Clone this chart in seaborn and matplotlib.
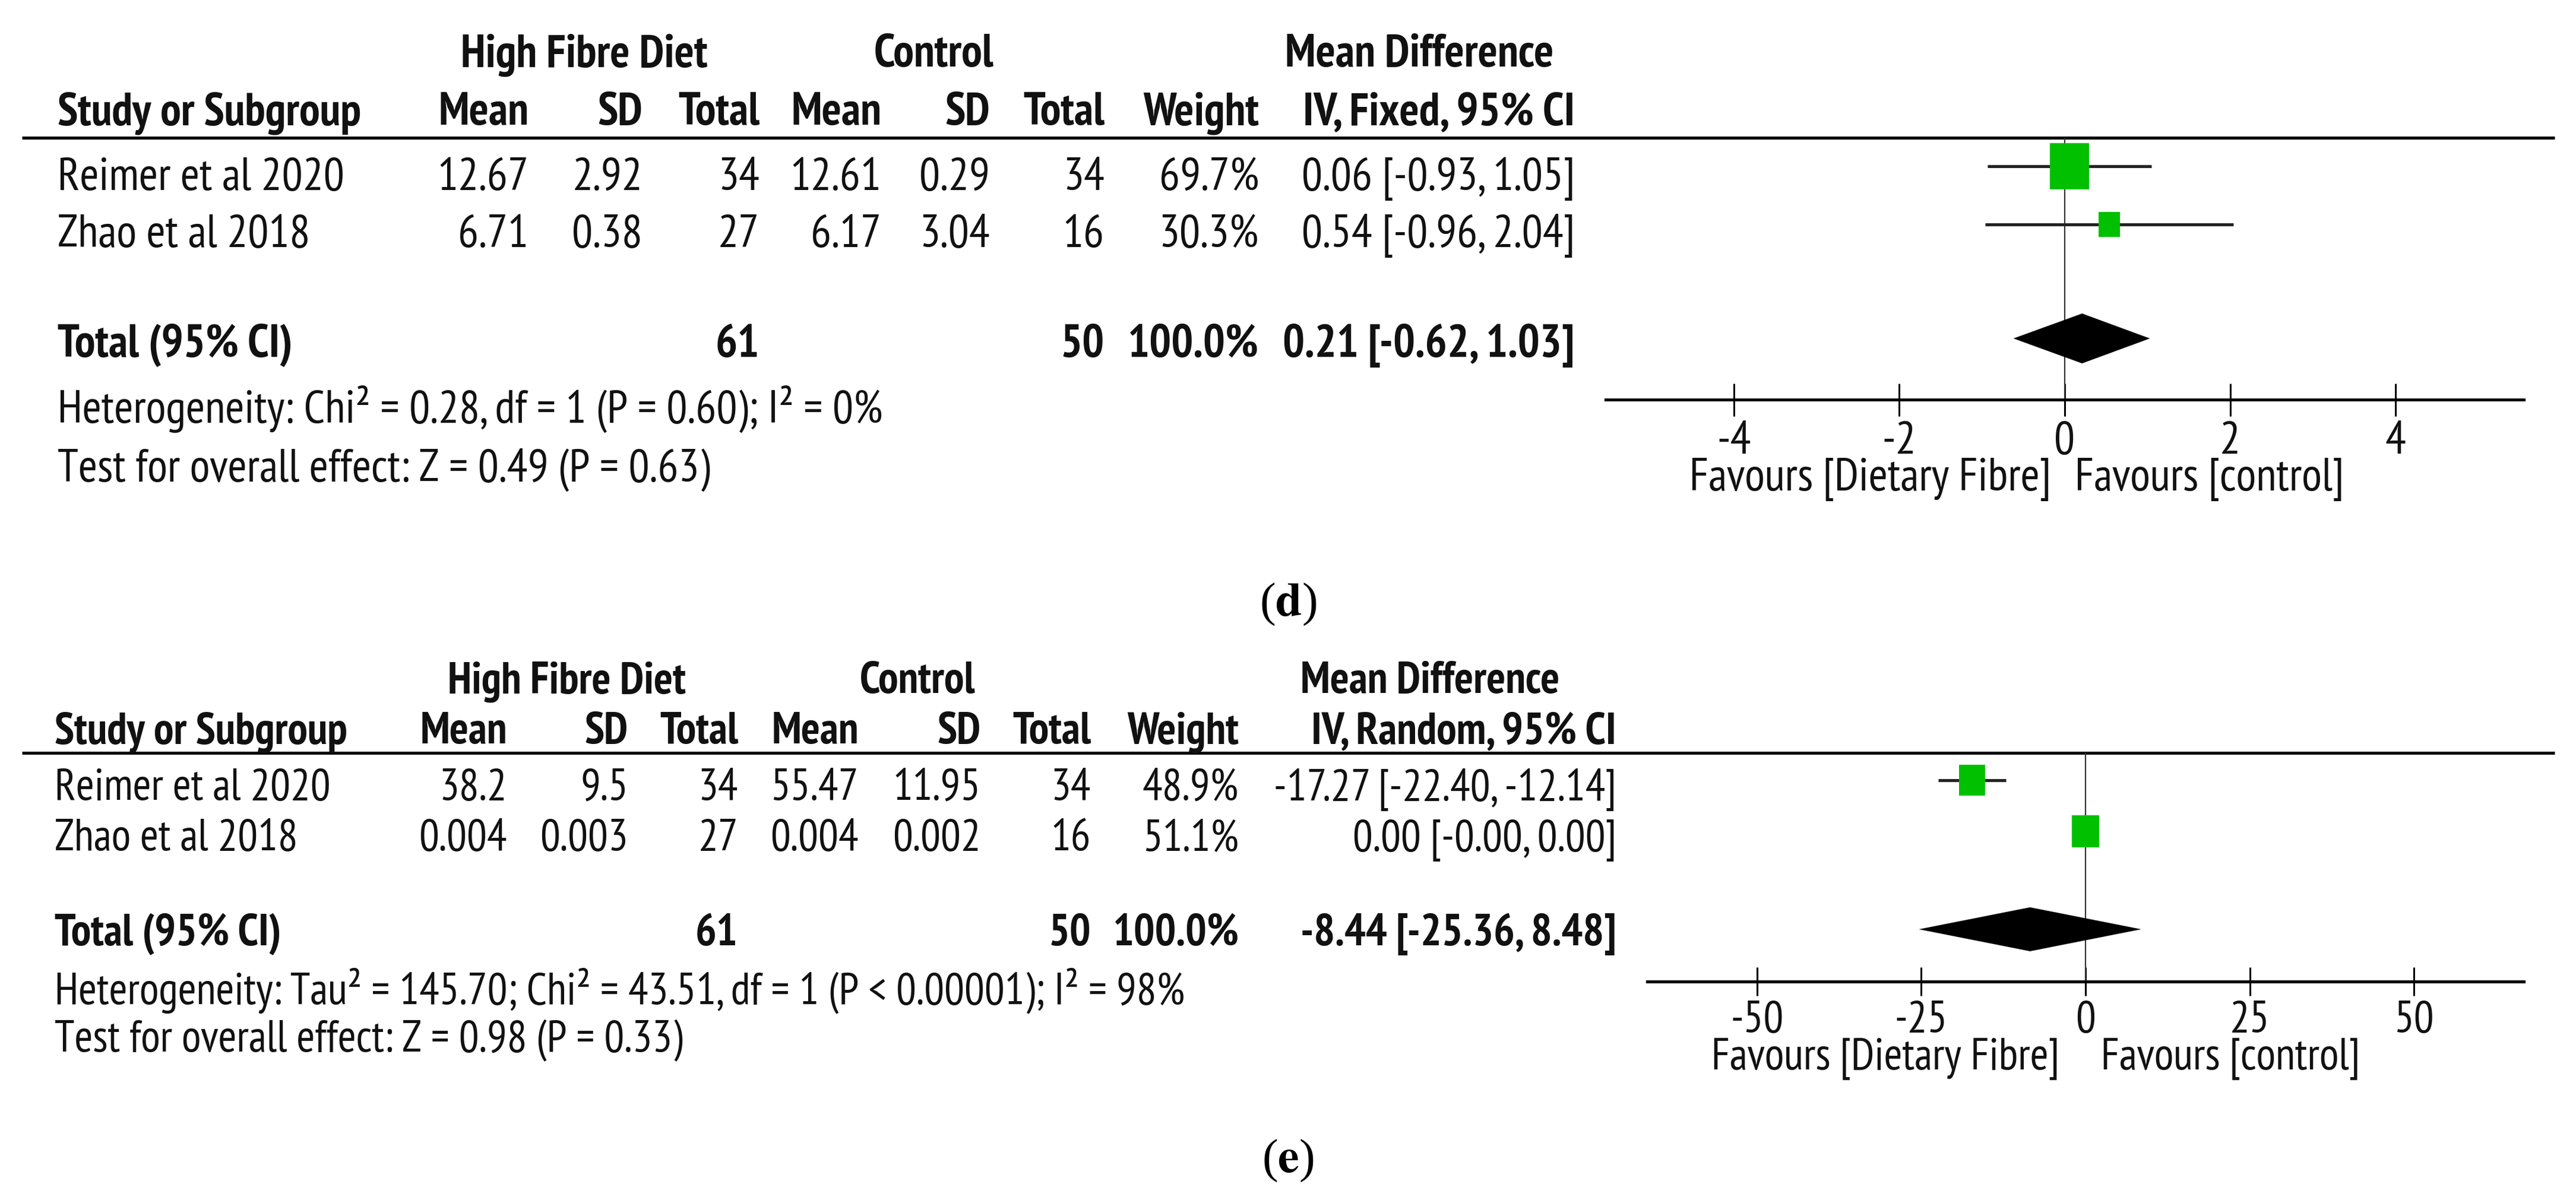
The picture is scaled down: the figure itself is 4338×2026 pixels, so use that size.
"""
Forest plots (d) and (e): high fibre diet vs control, mean difference.
Table columns on the left, forest panel on the right, drawn on one canvas.
"""

import matplotlib

matplotlib.use("Agg")
import matplotlib.pyplot as plt
import pandas as pd
import seaborn as sns

# ------------------------------------------------------------------------------
# Data, panel (d)
# ------------------------------------------------------------------------------
d_studies = ["Reimer et al 2020", "Zhao et al 2018"]
d_hfd_mean = [12.67, 6.71]
d_hfd_sd = [2.92, 0.38]
d_hfd_n = [34, 27]
d_ctl_mean = [12.61, 6.17]
d_ctl_sd = [0.29, 3.04]
d_ctl_n = [34, 16]
d_weight = [69.7, 30.3]
d_md = [0.06, 0.54]
d_lo = [-0.93, -0.96]
d_hi = [1.05, 2.04]
d_total_n = [61, 50]
d_total_md = [0.21, -0.62, 1.03]
d_method = "IV, Fixed, 95% CI"
d_het = "Heterogeneity: Chi² = 0.28, df = 1 (P = 0.60); I² = 0%"
d_test = "Test for overall effect: Z = 0.49 (P = 0.63)"
d_ticks = [-4, -2, 0, 2, 4]

# ------------------------------------------------------------------------------
# Data, panel (e)
# ------------------------------------------------------------------------------
e_studies = ["Reimer et al 2020", "Zhao et al 2018"]
e_hfd_mean = [38.2, 0.004]
e_hfd_sd = [9.5, 0.003]
e_hfd_n = [34, 27]
e_ctl_mean = [55.47, 0.004]
e_ctl_sd = [11.95, 0.002]
e_ctl_n = [34, 16]
e_weight = [48.9, 51.1]
e_md = [-17.27, 0.00]
e_lo = [-22.40, -0.0]
e_hi = [-12.14, 0.00]
e_total_n = [61, 50]
e_total_md = [-8.44, -25.36, 8.48]
e_method = "IV, Random, 95% CI"
e_het = "Heterogeneity: Tau² = 145.70; Chi² = 43.51, df = 1 (P < 0.00001); I² = 98%"
e_test = "Test for overall effect: Z = 0.98 (P = 0.33)"
e_ticks = [-50, -25, 0, 25, 50]

group_labels = ["High Fibre Diet", "Control"]
col_labels = ["Mean", "SD", "Total", "Mean", "SD", "Total", "Weight"]
favours = ["Favours [Dietary Fibre]", "Favours [control]"]

# ------------------------------------------------------------------------------
# Layout (pixels on a 4338 x 2026 canvas)
# ------------------------------------------------------------------------------
W, H, DPI = 4338, 2026, 100
GREEN = "#00c000"
INK = "#111111"

LAYOUT = {
    "d": dict(fs=56, head1=112, head2=210, rows=[320, 416], total=601,
              het=712, test=811, rule=232, study_x=97,
              cols=[890, 1082, 1279, 1484, 1667, 1860, 2120, 2652],
              group_c=[984, 1573], md_c=2390,
              ax_x=(2704, 4250), ax_y=(232, 673), xlim=5.55,
              mark_y=[280, 378], dia_y=570, dia_h=42, mark_k=3.56,
              tick_len=55, fav_y=826, fav_gap=(23, 17), label_y=1018),
    "e": dict(fs=54, head1=1167, head2=1252, rows=[1347, 1432], total=1592,
              het=1690, test=1770, rule=1268, study_x=92,
              cols=[854, 1058, 1243, 1446, 1652, 1837, 2086, 2722],
              group_c=[955, 1545], md_c=2408,
              ax_x=(2774, 4250), ax_y=(1268, 1653), xlim=66.7,
              mark_y=[1314, 1400], dia_y=1565, dia_h=37, mark_k=3.06,
              tick_len=48, fav_y=1800, fav_gap=(44, 26), label_y=1955),
}

sns.set_theme(style="white")
# narrow sans families first, in the spirit of the Arial Narrow original
plt.rcParams["font.family"] = ["Liberation Sans Narrow", "Arial Narrow", "PT Sans Narrow",
                               "Archivo Narrow", "IBM Plex Sans Condensed", "DejaVu Sans"]
plt.rcParams["axes.unicode_minus"] = False
plt.rcParams["mathtext.fontset"] = "stix"

fig = plt.figure(figsize=(W / DPI, H / DPI), dpi=DPI, facecolor="white")
bg = fig.add_axes([0, 0, 1, 1])
bg.set_xlim(0, W)
bg.set_ylim(H, 0)
bg.axis("off")

PT = 72 / DPI  # points per pixel


def fmt_ci(md, lo, hi):
    return f"{md:.2f} [{lo:.2f}, {hi:.2f}]"


def draw_panel(key, studies, hfd_mean, hfd_sd, hfd_n, ctl_mean, ctl_sd, ctl_n,
               weight, md, lo, hi, total_n, total_md, method, het, test, ticks):
    L = LAYOUT[key]
    fs = L["fs"]
    cols = L["cols"]
    kw = dict(fontsize=fs, color=INK, va="baseline")

    # header rows
    for label, cx in zip(group_labels, L["group_c"]):
        bg.text(cx, L["head1"], label, ha="center", fontweight="bold", **kw)
    bg.text(L["md_c"], L["head1"], "Mean Difference", ha="center", fontweight="bold", **kw)
    bg.text(L["study_x"], L["head2"], "Study or Subgroup", ha="left", fontweight="bold", **kw)
    for label, x in zip(col_labels + [method], cols):
        bg.text(x, L["head2"], label, ha="right", fontweight="bold", **kw)
    bg.plot([37, 4302], [L["rule"], L["rule"]], color="black", lw=5 * PT,
            solid_capstyle="butt")

    # study rows
    for i, name in enumerate(studies):
        y = L["rows"][i]
        cells = [f"{hfd_mean[i]:g}", f"{hfd_sd[i]:g}", f"{hfd_n[i]}",
                 f"{ctl_mean[i]:g}", f"{ctl_sd[i]:g}", f"{ctl_n[i]}",
                 f"{weight[i]:.1f}%", fmt_ci(md[i], lo[i], hi[i])]
        bg.text(L["study_x"], y, name, ha="left", **kw)
        for text, x in zip(cells, cols):
            bg.text(x, y, text, ha="right", **kw)

    # total row
    y = L["total"]
    bg.text(L["study_x"], y, "Total (95% CI)", ha="left", fontweight="bold", **kw)
    totals = [(f"{total_n[0]}", cols[2]), (f"{total_n[1]}", cols[5]),
              (f"{sum(weight):.1f}%", cols[6]), (fmt_ci(*total_md), cols[7])]
    for text, x in totals:
        bg.text(x, y, text, ha="right", fontweight="bold", **kw)
    bg.text(L["study_x"], L["het"], het, ha="left", **kw)
    bg.text(L["study_x"], L["test"], test, ha="left", **kw)

    # forest panel
    x0, x1 = L["ax_x"]
    y0, y1 = L["ax_y"]
    ax = fig.add_axes([x0 / W, 1 - y1 / H, (x1 - x0) / W, (y1 - y0) / H])
    ax.set_facecolor("none")
    ax.set_xlim(-L["xlim"], L["xlim"])
    ax.set_ylim(y1, y0)
    for side in ["top", "left", "right"]:
        ax.spines[side].set_visible(False)
    ax.spines["bottom"].set_linewidth(5 * PT)
    ax.spines["bottom"].set_color("black")
    ax.set_xticks(ticks)
    ax.set_xticklabels([f"{t}" for t in ticks])
    ax.set_yticks([])
    ax.tick_params(axis="x", direction="inout", length=L["tick_len"] * PT,
                   width=3 * PT, color="black", labelsize=fs, labelcolor=INK,
                   pad=8 * PT, bottom=True)
    ax.axvline(0, color="#333333", lw=2.2 * PT, zorder=1)

    ax.hlines(L["mark_y"], lo, hi, color="#222222", lw=5 * PT, zorder=2)
    df = pd.DataFrame({"md": md, "y": L["mark_y"], "weight": weight})
    heights = [L["mark_k"] * w ** 0.73 * PT for w in weight]
    box = [(-0.42, -0.5), (0.42, -0.5), (0.42, 0.5), (-0.42, 0.5), (-0.42, -0.5)]
    sns.scatterplot(data=df, x="md", y="y", s=[h ** 2 for h in heights],
                    marker=box, color=GREEN, edgecolor="none", linewidth=0,
                    legend=False, zorder=3, ax=ax)
    ax.set_xlabel("")
    ax.set_ylabel("")

    est, t_lo, t_hi = total_md
    yd, hd = L["dia_y"], L["dia_h"]
    ax.fill([t_lo, est, t_hi, est], [yd, yd - hd, yd, yd + hd], color="black",
            lw=0, zorder=4)

    # favours labels around the zero line
    zero_px = x0 + (x1 - x0) / 2
    g_left, g_right = L["fav_gap"]
    bg.text(zero_px - g_left, L["fav_y"], favours[0], ha="right", **kw)
    bg.text(zero_px + g_right, L["fav_y"], favours[1], ha="left", **kw)

    # panel letter
    bg.text(W / 2, L["label_y"], "($\\mathbf{" + key + "}$)", ha="center", va="center",
            fontsize=58, color="black", family="Liberation Serif")


draw_panel("d", d_studies, d_hfd_mean, d_hfd_sd, d_hfd_n, d_ctl_mean, d_ctl_sd,
           d_ctl_n, d_weight, d_md, d_lo, d_hi, d_total_n, d_total_md,
           d_method, d_het, d_test, d_ticks)
draw_panel("e", e_studies, e_hfd_mean, e_hfd_sd, e_hfd_n, e_ctl_mean, e_ctl_sd,
           e_ctl_n, e_weight, e_md, e_lo, e_hi, e_total_n, e_total_md,
           e_method, e_het, e_test, e_ticks)

fig.savefig("out.png", dpi=DPI, facecolor="white")
